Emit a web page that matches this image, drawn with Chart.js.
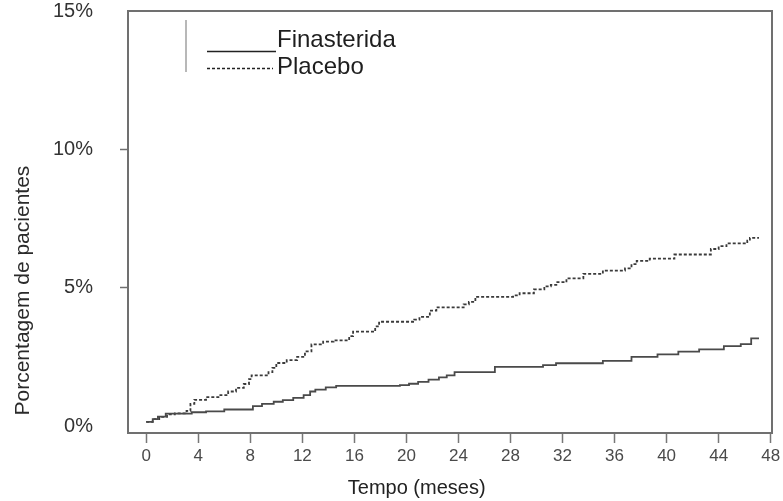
<!DOCTYPE html>
<html>
<head>
<meta charset="utf-8">
<script src="https://cdn.jsdelivr.net/npm/chart.js@4.4.1/dist/chart.umd.min.js"></script>
<style>
  html, body { margin: 0; padding: 0; background: #ffffff; }
  #wrap { position: relative; width: 783px; height: 501px; }
</style>
</head>
<body>
<div id="wrap"><canvas id="chart"></canvas></div>
<script>
// ---- data (Kaplan–Meier style cumulative %) ----
const xTickValues = [0, 4, 8, 12, 16, 20, 24, 28, 32, 36, 40, 44, 48];
const yTickValues = [0, 5, 10, 15];
const seriesNames = ['Finasterida', 'Placebo'];

const finMonths = [0, 0.5, 0.9, 1.5, 3.5, 4.6, 6.0, 8.2, 8.9, 9.8, 10.5, 11.3, 12.1, 12.6, 13.0, 13.8, 14.6,
  19.5, 20.2, 20.9, 21.7, 22.5, 23.1, 23.7, 26.8, 30.5, 31.5, 35.1, 37.3, 39.3, 40.9, 42.5, 44.4, 45.7, 46.5, 47.1];
const finPct = [0.15, 0.25, 0.34, 0.45, 0.50, 0.53, 0.60, 0.72, 0.80, 0.88, 0.94, 1.02, 1.12, 1.25, 1.32, 1.40, 1.45,
  1.48, 1.53, 1.60, 1.68, 1.76, 1.83, 1.95, 2.14, 2.20, 2.27, 2.36, 2.50, 2.59, 2.69, 2.77, 2.89, 2.96, 3.17, 3.17];

const plaMonths = [0, 0.5, 1.0, 1.6, 2.2, 3.1, 3.4, 3.7, 4.6, 5.7, 6.3, 6.9, 7.5, 7.9, 8.1, 9.4, 9.7, 10.0, 10.8,
  11.6, 12.2, 12.7, 13.6, 14.4, 15.6, 15.9, 17.6, 17.9, 20.6, 21.0, 21.8, 22.3, 24.4, 24.8, 25.3, 28.2, 28.7,
  29.8, 30.6, 31.1, 31.6, 32.3, 33.6, 35.1, 36.8, 37.3, 37.7, 38.7, 40.6, 43.4, 44.0, 44.6, 46.2, 46.4, 47.1];
const plaPct = [0.15, 0.25, 0.33, 0.42, 0.46, 0.55, 0.80, 0.95, 1.05, 1.12, 1.25, 1.38, 1.52, 1.70, 1.83, 1.95, 2.10, 2.28, 2.38,
  2.50, 2.70, 2.95, 3.05, 3.10, 3.25, 3.41, 3.60, 3.77, 3.85, 3.95, 4.17, 4.29, 4.40, 4.49, 4.67, 4.72, 4.80,
  4.94, 5.05, 5.10, 5.20, 5.34, 5.50, 5.62, 5.70, 5.85, 5.97, 6.05, 6.20, 6.40, 6.50, 6.60, 6.70, 6.80, 6.80];

const xTitle = 'Tempo (meses)';
const yTitle = 'Porcentagem de pacientes';

// ---- plugins ----
const framePlugin = {
  id: 'frame',
  afterDraw(chart) {
    const a = chart.chartArea, ctx = chart.ctx;
    ctx.save();
    ctx.strokeStyle = '#707070';
    ctx.lineWidth = 2;
    ctx.beginPath();
    ctx.moveTo(a.left, a.top);
    ctx.lineTo(a.right, a.top);
    ctx.lineTo(a.right, a.bottom);
    ctx.stroke();
    ctx.restore();
  }
};

const legendPlugin = {
  id: 'refLegend',
  afterDraw(chart) {
    const ctx = chart.ctx;
    ctx.save();
    ctx.strokeStyle = '#a0a0a0';
    ctx.lineWidth = 1.5;
    ctx.beginPath();
    ctx.moveTo(186, 20);
    ctx.lineTo(186, 72);
    ctx.stroke();
    const rows = [{ lineY: 51.5, textY: 47, x1: 207, x2: 276 }, { lineY: 68.5, textY: 74, x1: 207, x2: 273 }];
    chart.data.datasets.forEach((ds, i) => {
      const r = rows[i];
      ctx.strokeStyle = '#222';
      ctx.lineWidth = 1.5;
      ctx.setLineDash(ds.borderDash || []);
      ctx.beginPath();
      ctx.moveTo(r.x1, r.lineY);
      ctx.lineTo(r.x2, r.lineY);
      ctx.stroke();
      ctx.setLineDash([]);
      ctx.fillStyle = '#1e1e1e';
      ctx.font = '24px "Liberation Sans", Arial, sans-serif';
      ctx.textBaseline = 'alphabetic';
      ctx.textAlign = 'left';
      ctx.fillText(ds.label, 277, r.textY);
    });
    ctx.restore();
  }
};

const toPoints = (xs, ys) => xs.map((m, i) => ({ x: m, y: ys[i] }));

new Chart(document.getElementById('chart'), {
  type: 'line',
  data: {
    datasets: [
      {
        label: seriesNames[0],
        data: toPoints(finMonths, finPct),
        borderColor: '#4a4a4a',
        borderWidth: 1.8,
        stepped: 'before',
        pointRadius: 0,
        fill: false
      },
      {
        label: seriesNames[1],
        data: toPoints(plaMonths, plaPct),
        borderColor: '#3a3a3a',
        borderWidth: 1.8,
        borderDash: [3, 2],
        stepped: 'before',
        pointRadius: 0,
        fill: false
      }
    ]
  },
  options: {
    responsive: true,
    maintainAspectRatio: false,
    animation: false,
    layout: { padding: { top: 11, right: 11, bottom: 0, left: 0 } },
    plugins: {
      legend: { display: false },
      tooltip: { enabled: false }
    },
    scales: {
      x: {
        type: 'linear',
        min: -1.4,
        max: 48.1,
        afterBuildTicks: (s) => { s.ticks = xTickValues.map(v => ({ value: v })); },
        afterFit: (s) => { s.height = 68; s.paddingLeft = 0; s.paddingRight = 0; },
        grid: { display: true, drawOnChartArea: false, drawTicks: true, tickLength: 10, tickColor: '#777', tickWidth: 1.5 },
        border: { display: true, color: '#707070', width: 2 },
        ticks: {
          color: '#4a4a4a',
          padding: 3,
          maxRotation: 0,
          autoSkip: false,
          font: { family: '"Liberation Sans", Arial, sans-serif', size: 17 }
        },
        title: {
          display: true,
          text: xTitle + '            ',
          color: '#222',
          font: { family: '"Liberation Sans", Arial, sans-serif', size: 20 },
          padding: { top: 0, bottom: 1 }
        }
      },
      y: {
        type: 'linear',
        min: -0.25,
        max: 15,
        afterBuildTicks: (s) => { s.ticks = yTickValues.map(v => ({ value: v })); },
        afterFit: (s) => { s.width = 128; s.paddingTop = 0; s.paddingBottom = 0; },
        grid: {
          display: true, drawOnChartArea: false, drawTicks: true, tickLength: 8, tickWidth: 1.5,
          tickColor: (c) => (c.tick && (c.tick.value === 5 || c.tick.value === 10)) ? '#707070' : 'rgba(0,0,0,0)'
        },
        border: { display: true, color: '#707070', width: 2 },
        ticks: {
          color: '#333',
          padding: 27,
          crossAlign: 'near',
          font: { family: '"Liberation Sans", Arial, sans-serif', size: 20 },
          callback: (v) => v + '%'
        },
        title: {
          display: true,
          text: '   ' + yTitle,
          align: 'start',
          color: '#2a2a2a',
          font: { family: '"Liberation Sans", Arial, sans-serif', size: 21 },
          padding: { top: 11, bottom: 0 }
        }
      }
    }
  },
  plugins: [framePlugin, legendPlugin]
});
</script>
</body>
</html>
